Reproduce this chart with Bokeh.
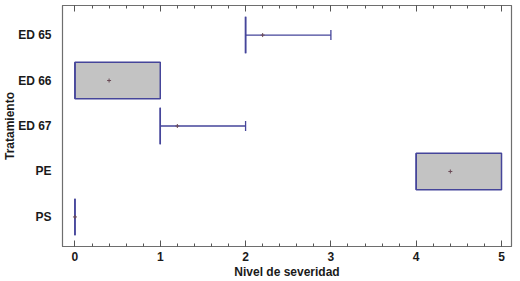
from bokeh.plotting import figure
from bokeh.models import Range1d, FixedTicker, LinearAxis, ColumnDataSource
from bokeh.embed import file_html
from bokeh.resources import INLINE

categories = ["ED 65", "ED 66", "ED 67", "PE", "PS"]
mins = [2, 0, 1, 4, 0]
q1 = [2, 0, 1, 4, 0]
medians = [2, 0, 1, 4, 0]
q3 = [2, 1, 1, 5, 0]
maxs = [3, 1, 2, 5, 0]
means = [2.2, 0.4, 1.2, 4.4, 0]
x_ticks = [0, 1, 2, 3, 4, 5]

n = len(categories)
ypos = [n - i for i in range(n)]
BOX_H = 0.8
CAP_H = 0.22
LINE = "#45459a"
FONT = "Liberation Sans"

src = ColumnDataSource(dict(y=ypos, q1=q1, q3=q3, med=medians, mn=mins, mx=maxs, mean=means,
                            y0=[v - BOX_H / 2 for v in ypos], y1=[v + BOX_H / 2 for v in ypos]))

p = figure(width=520, height=281, output_backend="svg", toolbar_location=None,
           x_range=Range1d(-0.146, 5.117), y_range=Range1d(0.35, 5.65),
           min_border_left=0, min_border_right=9, min_border_top=5, min_border_bottom=0)
p.grid.visible = False
p.outline_line_color = "#6e6e6e"
p.outline_line_width = 1.2
p.background_fill_color = "white"
p.border_fill_color = "white"

# whiskers
hi = [i for i in range(n) if maxs[i] > q3[i]]
lo = [i for i in range(n) if mins[i] < q1[i]]
p.segment(x0=[q3[i] for i in hi], x1=[maxs[i] for i in hi], y0=[ypos[i] for i in hi], y1=[ypos[i] for i in hi],
          line_color=LINE, line_width=1.3)
p.segment(x0=[maxs[i] for i in hi], x1=[maxs[i] for i in hi],
          y0=[ypos[i] - CAP_H / 2 for i in hi], y1=[ypos[i] + CAP_H / 2 for i in hi],
          line_color=LINE, line_width=1.3)
p.segment(x0=[mins[i] for i in lo], x1=[q1[i] for i in lo], y0=[ypos[i] for i in lo], y1=[ypos[i] for i in lo],
          line_color=LINE, line_width=1.3)
p.segment(x0=[mins[i] for i in lo], x1=[mins[i] for i in lo],
          y0=[ypos[i] - CAP_H / 2 for i in lo], y1=[ypos[i] + CAP_H / 2 for i in lo],
          line_color=LINE, line_width=1.3)

# boxes
p.quad(left="q1", right="q3", bottom="y0", top="y1", source=src,
       fill_color="#c3c3c3", line_color=LINE, line_width=1.5)
# medians
p.segment(x0="med", x1="med", y0="y0", y1="y1", source=src, line_color=LINE, line_width=1.5)
# means
p.scatter(x="mean", y="y", source=src, marker="cross", size=4, line_color="#6a4a56", line_width=1)

# axes
xa = p.xaxis[0]
xa.ticker = FixedTicker(ticks=x_ticks, minor_ticks=[i / 5 for i in range(0, 26)])
ya = p.yaxis[0]
ya.ticker = FixedTicker(ticks=ypos)
ya.major_label_overrides = {ypos[i]: categories[i] for i in range(n)}

top = LinearAxis(ticker=FixedTicker(ticks=x_ticks, minor_ticks=[i / 5 for i in range(0, 26)]))
top.major_label_text_font_size = "0px"
top.major_label_text_color = None
top.major_label_standoff = 0
p.add_layout(top, "above")

for ax in [xa, top]:
    ax.major_tick_in = 6
    ax.major_tick_out = 0
    ax.minor_tick_in = 3
    ax.minor_tick_out = 0
    ax.major_tick_line_color = "#555555"
    ax.minor_tick_line_color = "#555555"
    ax.axis_line_color = "#6e6e6e"

ya.major_tick_line_color = None
ya.minor_tick_line_color = None
ya.axis_line_color = "#6e6e6e"

for ax in [xa, ya]:
    ax.major_label_text_font = FONT
    ax.major_label_text_font_style = "bold"
    ax.major_label_text_font_size = "12px"
    ax.major_label_text_color = "#1a1a1a"
    ax.axis_label_text_font = FONT
    ax.axis_label_text_font_style = "bold"
    ax.axis_label_text_font_size = "12px"
    ax.axis_label_text_color = "#1a1a1a"

xa.axis_label = "Nivel de severidad"
ya.axis_label = "Tratamiento"
xa.major_label_standoff = 5
xa.axis_label_standoff = 1
ya.major_label_standoff = 5
ya.axis_label_standoff = -2

open("out.html", "w").write(file_html(p, INLINE))
